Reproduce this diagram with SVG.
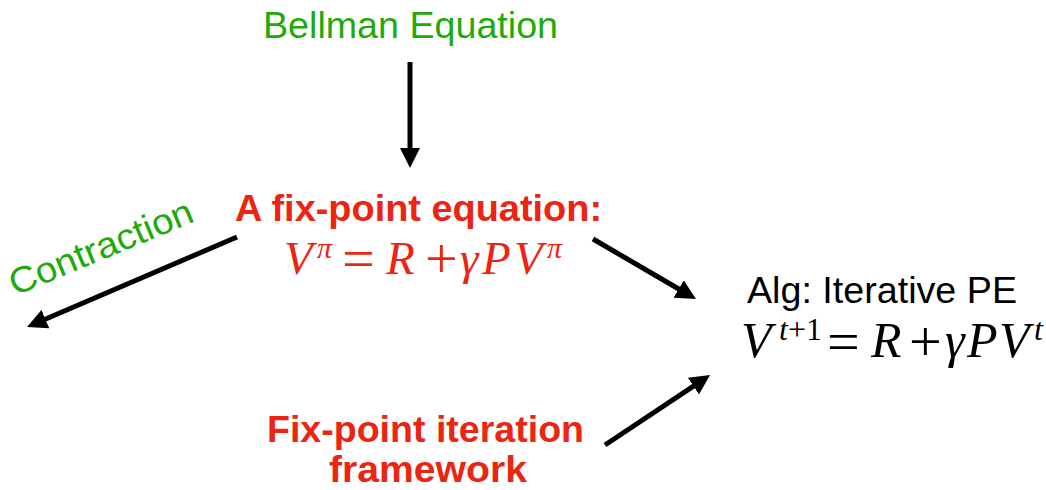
<svg xmlns="http://www.w3.org/2000/svg" width="1046" height="490" viewBox="0 0 1046 490">
<style>
.sans{font-family:"Liberation Sans",Arial,Helvetica,sans-serif}
.green{fill:#1faa0c}
.red{fill:#ec2412}
.bold{font-weight:bold}
.math{font-family:"Liberation Serif","Times New Roman",serif}
.it{font-style:italic}
.op{font-size:58px;font-style:normal}
.conn{stroke:#000;stroke-width:5;fill:none;marker-end:url(#ah)}
</style>
<defs>
<marker id="ah" markerUnits="userSpaceOnUse" viewBox="0 0 20 20" markerWidth="20" markerHeight="20" refX="6" refY="10" orient="auto">
<path d="M0,0 L20,10 L0,20 z" fill="#000"/>
</marker>
</defs>
<rect width="1046" height="490" fill="#fff"/>
<g id="connectors">
<line class="conn" x1="410" y1="62" x2="410" y2="154"/>
<line class="conn" x1="593" y1="239" x2="683.9" y2="292"/>
<line class="conn" x1="605" y1="445" x2="698.4" y2="382.8"/>
<line class="conn" x1="237" y1="237" x2="39.9" y2="321.5"/>
</g>
<g id="bellman">
<text class="sans green" x="410.5" y="38" font-size="37" text-anchor="middle" textLength="295" lengthAdjust="spacingAndGlyphs">Bellman Equation</text>
</g>
<g id="fixpoint-eq">
<text class="sans red bold" x="418.5" y="221" font-size="36" text-anchor="middle" textLength="367" lengthAdjust="spacingAndGlyphs">A fix-point equation:</text>
<text class="math red" y="274" font-size="47"><tspan class="it" x="284">V</tspan><tspan class="it" x="317" y="258" font-size="30">π</tspan><tspan class="op" x="342" y="278">=</tspan><tspan class="it" x="386" y="274">R</tspan><tspan class="op" x="425" y="278">+</tspan><tspan class="it" x="460" y="274">γ</tspan><tspan class="it" x="482">P</tspan><tspan class="it" x="514">V</tspan><tspan class="it" x="547" y="258" font-size="30">π</tspan></text>
</g>
<g id="contraction">
<text class="sans green" x="0" y="0" font-size="36" transform="translate(15,296) rotate(-22.5)" textLength="196" lengthAdjust="spacingAndGlyphs">Contraction</text>
</g>
<g id="algorithm">
<text class="sans" x="882" y="303" font-size="36" text-anchor="middle" fill="#000" textLength="270" lengthAdjust="spacingAndGlyphs">Alg: Iterative PE</text>
<text class="math" y="357" font-size="50" fill="#000"><tspan class="it" x="741">V</tspan><tspan x="779" y="340" font-size="32"><tspan class="it">t</tspan>+1</tspan><tspan class="op" x="827" y="361">=</tspan><tspan class="it" x="871" y="357">R</tspan><tspan class="op" x="909" y="361">+</tspan><tspan class="it" x="945" y="357">γ</tspan><tspan class="it" x="967">P</tspan><tspan class="it" x="999">V</tspan><tspan class="it" x="1034" y="340" font-size="32">t</tspan></text>
</g>
<g id="framework">
<text class="sans red bold" x="425.5" y="442" font-size="36" text-anchor="middle" textLength="317" lengthAdjust="spacingAndGlyphs">Fix-point iteration</text>
<text class="sans red bold" x="428" y="482" font-size="36" text-anchor="middle" textLength="198" lengthAdjust="spacingAndGlyphs">framework</text>
</g>
</svg>
